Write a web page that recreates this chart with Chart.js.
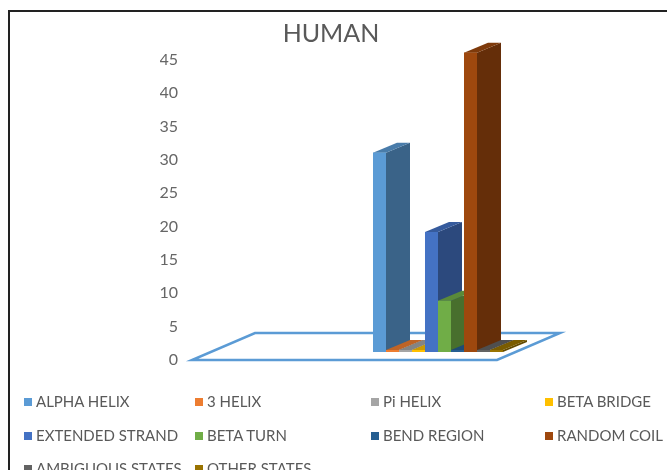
<!DOCTYPE html>
<html>
<head>
<meta charset="utf-8">
<script src="https://cdn.jsdelivr.net/npm/chart.js@4.4.1/dist/chart.umd.min.js"></script>
<style>
  html, body { margin: 0; padding: 0; background: #fff; overflow: hidden; }
  #wrap { position: relative; width: 720px; height: 500px; }
  #frame { position: absolute; left: 8px; top: 10px; width: 760px; height: 560px; border: 2px solid #222; pointer-events: none; }
  #legend { position: absolute; left: 0; top: 0; font-family: Lato, sans-serif; font-size: 15px; color: #595959; }
  .item { position: absolute; white-space: nowrap; line-height: 18px; }
  .box { display: inline-block; width: 8px; height: 8px; margin-right: 4px; vertical-align: 1px; }
</style>
</head>
<body>
<div id="wrap">
  <canvas id="chart" width="720" height="500"></canvas>
  <div id="legend"></div>
  <div id="frame"></div>
</div>
<script>
// data
const categories = ["HUMAN"];
const seriesNames = [
  "ALPHA HELIX", "3 HELIX", "Pi HELIX", "BETA BRIDGE",
  "EXTENDED STRAND", "BETA TURN", "BEND REGION", "RANDOM COIL",
  "AMBIGUOUS STATES", "OTHER STATES"
];
const seriesValues = [29.9, 0.3, 0.3, 0.3, 18.0, 7.7, 0.3, 44.9, 0.3, 0.3];
const yTicks = [0, 5, 10, 15, 20, 25, 30, 35, 40, 45];

const seriesColors = [
  "#5B9BD5", "#ED7D31", "#A5A5A5", "#FFC000",
  "#4472C4", "#70AD47", "#255E91", "#9E480E",
  "#636363", "#997300"
];

// legend layout (Excel style fixed columns)
const legendCols = [24, 195, 371, 545];
const legendRows = [401, 435, 468];

function shade(hex, f) {
  const n = parseInt(hex.slice(1), 16);
  const r = Math.round(((n >> 16) & 255) * f);
  const g = Math.round(((n >> 8) & 255) * f);
  const b = Math.round((n & 255) * f);
  return `rgb(${r},${g},${b})`;
}

// floor + fake 3d faces
const bars3d = {
  id: "bars3d",
  beforeDatasetsDraw(chart) {
    const { ctx, chartArea: a } = chart;
    const yFront = a.bottom + 8, yBack = a.bottom - 19;
    const xl = a.left + 2, w = 305, dx = 63;
    ctx.save();
    ctx.strokeStyle = "#5B9BD5";
    ctx.lineWidth = 2.5;
    ctx.beginPath();
    ctx.moveTo(xl, yFront);
    ctx.lineTo(xl + w, yFront);
    ctx.lineTo(xl + w + dx, yBack);
    ctx.lineTo(xl + dx, yBack);
    ctx.closePath();
    ctx.stroke();
    ctx.restore();
  },
  afterDatasetsDraw(chart) {
    const ctx = chart.ctx;
    const dx = 24, dy = -10;
    ctx.save();
    chart.data.datasets.forEach((ds, i) => {
      const meta = chart.getDatasetMeta(i);
      meta.data.forEach((bar) => {
        const { x, y, base, width } = bar.getProps(["x", "y", "base", "width"], true);
        const l = x - width / 2, r = x + width / 2;
        // side
        ctx.fillStyle = shade(ds.backgroundColor, 0.64);
        ctx.beginPath();
        ctx.moveTo(r, y);
        ctx.lineTo(r + dx, y + dy);
        ctx.lineTo(r + dx, base + dy);
        ctx.lineTo(r, base);
        ctx.closePath();
        ctx.fill();
        // top
        ctx.fillStyle = shade(ds.backgroundColor, 0.8);
        ctx.beginPath();
        ctx.moveTo(l, y);
        ctx.lineTo(l + dx, y + dy);
        ctx.lineTo(r + dx, y + dy);
        ctx.lineTo(r, y);
        ctx.closePath();
        ctx.fill();
        // front
        ctx.fillStyle = ds.backgroundColor;
        ctx.fillRect(l, y, width, base - y);
      });
    });
    ctx.restore();
  },
  afterDraw(chart) {
    const ctx = chart.ctx;
    ctx.save();
    ctx.font = "25px Lato, sans-serif";
    ctx.fillStyle = "#595959";
    ctx.textAlign = "center";
    ctx.textBaseline = "middle";
    ctx.fillText(categories[0], 331, 34);
    ctx.restore();
  }
};

const datasets = seriesNames.map((name, i) => ({
  label: name,
  data: [seriesValues[i]],
  backgroundColor: seriesColors[i],
  borderWidth: 0,
  categoryPercentage: 0.2621,
  barPercentage: 1
}));

const context = document.getElementById("chart").getContext("2d");
const chart = new Chart(context, {
  type: "bar",
  data: { labels: categories, datasets: datasets },
  options: {
    responsive: false,
    animation: false,
    layout: { padding: { left: 160, right: 34, top: 52, bottom: 148 } },
    plugins: { legend: { display: false }, title: { display: false }, tooltip: { enabled: false } },
    scales: {
      x: { display: false },
      y: {
        min: 0,
        max: 45,
        afterFit: (s) => { s.width = 30; },
        afterBuildTicks: (s) => { s.ticks = yTicks.map((v) => ({ value: v })); },
        grid: { display: false, drawTicks: false },
        border: { display: false },
        ticks: {
          color: "#666666",
          font: { family: "Lato", size: 16 },
          padding: 12,
          labelOffset: 8
        }
      }
    }
  },
  plugins: [bars3d]
});

// html legend
const legend = document.getElementById("legend");
seriesNames.forEach((name, i) => {
  const item = document.createElement("div");
  item.className = "item";
  item.style.left = legendCols[i % 4] + "px";
  item.style.top = (legendRows[Math.floor(i / 4)] - 9) + "px";
  const box = document.createElement("span");
  box.className = "box";
  box.style.background = seriesColors[i];
  item.appendChild(box);
  item.appendChild(document.createTextNode(name));
  legend.appendChild(item);
});
</script>
</body>
</html>
